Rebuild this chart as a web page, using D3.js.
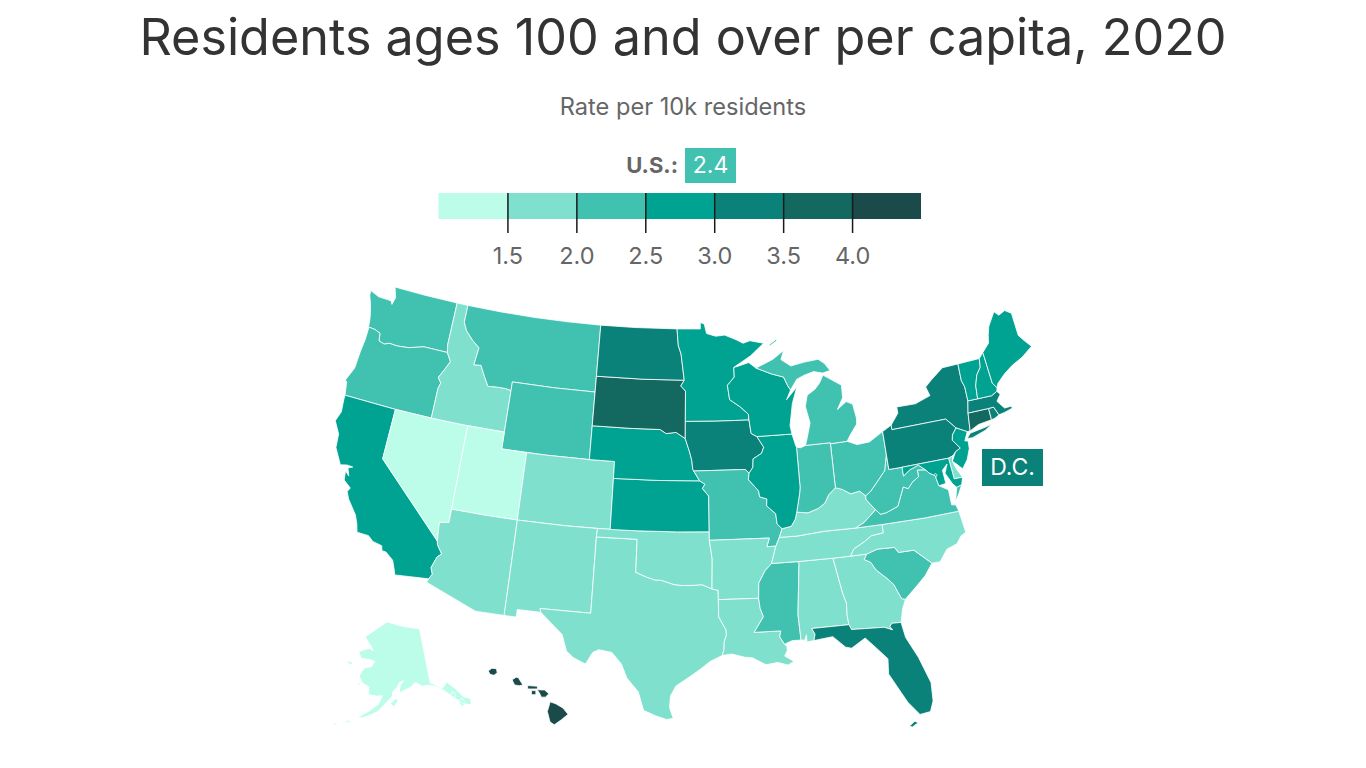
<!DOCTYPE html>
<html>
<head>
<meta charset="utf-8">
<script src="https://cdn.jsdelivr.net/npm/d3@7"></script>
<style>
  body { margin: 0; background: #fff; font-family: Inter, "Noto Sans", sans-serif; }
  svg { display: block; }
</style>
</head>
<body>
<svg id="chart" width="1366" height="768"></svg>
<script>
const titleText = 'Residents ages 100 and over per capita, 2020';
const subtitleText = 'Rate per 10k residents';
const usValue = 2.4;
const tickValues = [1.5, 2.0, 2.5, 3.0, 3.5, 4.0];
const binColors = ['#bbfde9', '#7fe0cd', '#41c1b0', '#00a291', '#0b8279', '#136860', '#1b4a4a'];
const legendDomain = [1.0, 4.5];

// estimated from the colour bins, only the bin is readable in the picture
const stateValues = {
  AK: 1.2, AL: 1.9, AR: 1.9, AZ: 1.9, CA: 2.8, CO: 1.8, CT: 3.7, DC: 3.2, DE: 1.9, FL: 3.2,
  GA: 1.8, HI: 4.3, IA: 3.3, ID: 1.9, IL: 2.8, IN: 2.3, KS: 2.9, KY: 1.8, LA: 1.9, MA: 3.3,
  MD: 2.8, ME: 2.8, MI: 2.3, MN: 2.9, MO: 2.3, MS: 2.3, MT: 2.4, NC: 1.9, ND: 3.4, NE: 2.9,
  NH: 2.8, NJ: 2.8, NM: 1.9, NV: 1.3, NY: 3.2, OH: 2.3, OK: 1.8, OR: 2.3, PA: 3.2, RI: 3.1,
  SC: 2.2, SD: 3.8, TN: 1.7, TX: 1.8, UT: 1.2, VA: 2.2, VT: 2.9, WA: 2.3, WI: 2.9, WV: 2.3, WY: 2.3
};

// lon,lat outlines, simplified by hand; one string per ring
const stateRings = {
  WA: ['-124.73,48.38 -123.9,48.16 -123.1,48.15 -122.75,48.14 -122.6,47.95 -122.45,48.4 -122.76,49 -120,49 -117.03,49 -117.04,46.43 -116.92,45.99 -118.98,46 -119.3,45.93 -120.2,45.73 -121.2,45.65 -121.9,45.68 -122.3,45.55 -122.8,45.65 -122.9,46.1 -123.4,46.23 -124,46.27 -124.05,46.65 -124.15,47 -124.4,47.6 -124.7,48.1'],
  OR: ['-124,46.27 -123.4,46.23 -122.9,46.1 -122.8,45.65 -122.3,45.55 -121.9,45.68 -121.2,45.65 -120.2,45.73 -119.3,45.93 -118.98,46 -116.92,45.99 -116.5,45.5 -116.85,44.95 -117.2,44.45 -117.03,44.25 -116.9,44.15 -117.03,43.8 -117.03,42 -120,42 -124.21,42 -124.4,42.8 -124.55,42.85 -124.1,43.7 -124.05,44.7 -123.95,45.5 -123.95,46.2'],
  CA: ['-124.21,42 -120,42 -120,39 -114.63,35 -114.57,34.8 -114.14,34.3 -114.43,34.08 -114.7,33.4 -114.52,33.03 -114.72,32.72 -117.12,32.53 -117.25,32.85 -117.5,33.35 -118.1,33.73 -118.4,33.75 -118.5,34.03 -119.2,34.15 -119.6,34.42 -120.47,34.45 -120.63,34.9 -120.9,35.4 -121.7,36.2 -121.95,36.6 -121.8,36.85 -122.4,37.2 -122.5,37.75 -122.15,37.5 -122.38,37.95 -122.05,38.08 -122.5,38.1 -123,38 -123.7,38.9 -123.8,39.7 -124.35,40.4 -124.1,41 -124.2,41.75'],
  NV: ['-120,42 -117.03,42 -114.04,42 -114.05,36.2 -114.75,36.1 -114.63,35 -120,39'],
  ID: ['-117.03,49 -116.05,49 -116.05,47.97 -115.7,47.5 -115,47 -114.35,46.65 -114.5,45.6 -113.9,45.65 -113.45,45.05 -113,44.5 -112.3,44.55 -111.5,44.55 -111.05,44.48 -111.05,42 -114.04,42 -117.03,42 -117.03,43.8 -116.9,44.15 -117.03,44.25 -117.2,44.45 -116.85,44.95 -116.5,45.5 -116.92,45.99 -117.04,46.43'],
  MT: ['-116.05,49 -113,49 -110,49 -107,49 -104.05,49 -104.05,45.94 -104.05,45 -107.5,45 -111.05,45 -111.05,44.48 -111.5,44.55 -112.3,44.55 -113,44.5 -113.45,45.05 -113.9,45.65 -114.5,45.6 -114.35,46.65 -115,47 -115.7,47.5 -116.05,47.97'],
  WY: ['-111.05,45 -107.5,45 -104.05,45 -104.05,43 -104.05,41 -107.5,41 -111.05,41 -111.05,42 -111.05,44.48'],
  UT: ['-114.04,42 -111.05,42 -111.05,41 -109.05,41 -109.05,37 -111.5,37 -114.05,37 -114.05,36.2'],
  CO: ['-109.05,41 -107.5,41 -104.05,41 -102.05,41 -102.05,40 -102.05,37 -105.5,37 -109.05,37'],
  AZ: ['-114.05,37 -111.5,37 -109.05,37 -109.05,31.33 -111.07,31.33 -114.81,32.5 -114.72,32.72 -114.52,33.03 -114.7,33.4 -114.43,34.08 -114.14,34.3 -114.57,34.8 -114.63,35 -114.75,36.1 -114.05,36.2'],
  NM: ['-109.05,37 -105.5,37 -103,37 -103.04,36.5 -103.04,32 -106.62,32 -106.53,31.78 -108.2,31.78 -108.2,31.33 -109.05,31.33'],
  TX: ['-103.04,36.5 -100,36.5 -100,34.56 -99.2,34.3 -98.6,34.15 -98.1,34.13 -97.2,33.9 -96.6,33.85 -95.8,33.86 -95.2,33.9 -94.48,33.64 -94.04,33.55 -94.04,33 -94.04,31.99 -93.55,31.2 -93.53,30.9 -93.7,30.5 -93.72,30.05 -93.85,29.7 -94.7,29.35 -95.2,29 -96,28.5 -97,27.9 -97.35,27.3 -97.4,26.6 -97.15,25.96 -97.6,25.9 -98.3,26.1 -99.1,26.4 -99.5,27.5 -100.3,28.3 -100.7,29.1 -101.4,29.77 -102.3,29.88 -102.7,29.7 -103.15,28.98 -104,29.3 -104.5,29.65 -104.9,30.6 -106,31.4 -106.53,31.78 -106.62,32 -103.04,32'],
  OK: ['-103,37 -100,37 -97,37 -94.62,37 -94.62,36.5 -94.43,35.4 -94.48,33.64 -95.2,33.9 -95.8,33.86 -96.6,33.85 -97.2,33.9 -98.1,34.13 -98.6,34.15 -99.2,34.3 -100,34.56 -100,36.5 -103.04,36.5'],
  KS: ['-102.05,40 -98.5,40 -95.31,40 -94.9,39.8 -95.1,39.55 -94.62,39.1 -94.62,37 -97,37 -100,37 -102.05,37'],
  NE: ['-104.05,43 -101,43 -98.5,43 -98,42.77 -97.2,42.85 -96.45,42.49 -96.1,41.7 -95.92,41.2 -95.85,40.7 -95.77,40.58 -95.31,40 -98.5,40 -102.05,40 -102.05,41 -104.05,41'],
  SD: ['-104.05,45.94 -100,45.94 -96.56,45.94 -96.85,45.6 -96.45,45.3 -96.45,43.5 -96.45,42.49 -97.2,42.85 -98,42.77 -98.5,43 -101,43 -104.05,43'],
  ND: ['-104.05,49 -101,49 -97.23,49 -97.1,48 -96.85,47.5 -96.56,45.94 -100,45.94 -104.05,45.94'],
  MN: ['-97.23,49 -95.15,49 -95.15,49.38 -94.8,49.3 -94.6,48.72 -93.8,48.55 -93,48.6 -92,48.3 -91.4,48.07 -90.8,48.2 -89.6,48 -90.8,47.3 -91.5,47 -92.1,46.75 -92.3,46.65 -92.29,46.08 -92.9,45.6 -92.75,44.75 -91.9,44.3 -91.25,43.85 -91.22,43.5 -94,43.5 -96.45,43.5 -96.45,45.3 -96.85,45.6 -96.56,45.94 -96.85,47.5 -97.1,48'],
  IA: ['-96.45,43.5 -94,43.5 -91.22,43.5 -91.1,42.7 -90.65,42.5 -90.15,41.85 -90.35,41.5 -91.05,41.2 -91.1,40.7 -91.42,40.38 -91.72,40.6 -95.77,40.58 -95.85,40.7 -95.92,41.2 -96.1,41.7 -96.45,42.49'],
  MO: ['-95.77,40.58 -91.72,40.6 -91.42,40.38 -91.5,40 -90.75,39.3 -90.7,38.95 -90.15,38.8 -90.2,38.4 -89.55,37.9 -89.5,37.3 -89.15,37 -89.4,36.5 -89.7,36 -90.37,36 -90.15,36.5 -94.62,36.5 -94.62,37 -94.62,39.1 -95.1,39.55 -94.9,39.8 -95.31,40'],
  AR: ['-94.62,36.5 -90.15,36.5 -90.37,36 -89.7,36 -90.1,35 -90.6,34.6 -91.1,33.9 -91.17,33 -94.04,33 -94.04,33.55 -94.48,33.64 -94.43,35.4'],
  LA: ['-94.04,33 -91.17,33 -91.1,32.4 -90.9,31.9 -91.6,31 -89.75,31 -89.85,30.65 -89.55,30.2 -89.4,30.05 -89.4,29.8 -89.6,29.5 -89,29.15 -89.4,28.95 -90.1,29.15 -90.9,29.05 -91.8,29.5 -92.3,29.55 -93.2,29.77 -93.85,29.7 -93.72,30.05 -93.7,30.5 -93.53,30.9 -93.55,31.2 -94.04,31.99'],
  MS: ['-91.17,33 -91.1,33.9 -90.6,34.6 -90.1,35 -88.2,35 -88.1,34.9 -88.47,31.9 -88.4,30.37 -89,30.38 -89.55,30.2 -89.85,30.65 -89.75,31 -91.6,31 -90.9,31.9 -91.1,32.4'],
  AL: ['-88.2,35 -85.6,35 -85.18,32.87 -85,32.3 -85.05,31.55 -85,31 -87.6,31 -87.4,30.65 -87.52,30.28 -88,30.23 -88,30.65 -88.15,30.35 -88.4,30.37 -88.47,31.9 -88.1,34.9'],
  GA: ['-85.6,35 -84.32,35 -83.11,35 -83.35,34.7 -82.9,34.48 -82.6,34 -81.9,33.4 -81.5,33 -81.1,32.1 -80.85,32.03 -81.15,31.5 -81.4,30.72 -82.05,30.75 -82.2,30.57 -82.05,30.36 -82.6,30.58 -84.86,30.7 -85,31 -85.05,31.55 -85,32.3 -85.18,32.87'],
  FL: ['-87.6,31 -85,31 -84.86,30.7 -82.6,30.58 -82.05,30.36 -82.2,30.57 -82.05,30.75 -81.4,30.72 -81.25,29.8 -80.6,28.5 -80.05,26.9 -80.12,25.8 -80.4,25.2 -81.1,25.13 -81.75,25.95 -82.1,26.6 -82.75,27.8 -82.65,28.7 -83.4,29.5 -84,30.1 -85,29.6 -85.4,29.7 -86.2,30.4 -87.52,30.28 -87.4,30.65', '-81.9,24.52 -81.5,24.78 -81.3,24.66 -81.7,24.46'],
  SC: ['-83.11,35 -82.3,35.2 -81.04,35.15 -80.8,34.82 -79.67,34.8 -78.55,33.86 -79.2,33.2 -79.9,32.7 -80.85,32.03 -81.1,32.1 -81.5,33 -81.9,33.4 -82.6,34 -82.9,34.48 -83.35,34.7'],
  NC: ['-84.32,35 -83.11,35 -82.3,35.2 -81.04,35.15 -80.8,34.82 -79.67,34.8 -78.55,33.86 -77.95,33.85 -77.3,34.5 -76.5,34.7 -76.1,35.1 -75.7,35.25 -75.8,36 -75.87,36.55 -78.5,36.55 -81.68,36.59 -81.7,36.1 -82.6,36.03 -83.1,35.77 -84,35.4'],
  TN: ['-90.1,35 -88.2,35 -85.6,35 -84.32,35 -84,35.4 -83.1,35.77 -82.6,36.03 -81.7,36.1 -81.68,36.59 -83.68,36.6 -86,36.63 -88.07,36.5 -89.4,36.5 -89.7,36'],
  KY: ['-89.4,36.5 -88.07,36.5 -86,36.63 -83.68,36.6 -83,36.85 -82,37.5 -82.6,38.17 -82.6,38.4 -83,38.72 -83.7,38.63 -84.3,38.95 -84.82,39.1 -85.4,38.73 -85.75,38.27 -86.3,38 -87.1,37.8 -87.95,37.9 -88.1,37.5 -88.45,37.1 -89.15,37'],
  VA: ['-83.68,36.6 -81.68,36.59 -78.5,36.55 -75.87,36.55 -76,36.95 -76.3,37 -76.3,37.55 -76.3,37.9 -76.95,38.25 -77.05,38.7 -77.04,38.85 -77.5,39.1 -77.72,39.32 -78.35,39.4 -78.35,39 -78.87,38.77 -79.3,38.42 -79.65,38.57 -80.3,37.5 -81.22,37.24 -81.68,37.2 -82,37.5 -83,36.85', '-75.95,37.15 -75.65,37.95 -75.24,38.03 -75.6,37.55'],
  WV: ['-82.6,38.17 -82,37.5 -81.68,37.2 -81.22,37.24 -80.3,37.5 -79.65,38.57 -79.3,38.42 -78.87,38.77 -78.35,39 -78.35,39.4 -77.72,39.32 -78.2,39.67 -78.9,39.5 -79.48,39.2 -79.48,39.72 -80.52,39.72 -80.52,40.64 -80.85,39.7 -81.7,39 -82.2,38.6 -82.6,38.4'],
  OH: ['-84.82,39.1 -84.3,38.95 -83.7,38.63 -83,38.72 -82.6,38.4 -82.2,38.6 -81.7,39 -80.85,39.7 -80.52,40.64 -80.52,41.98 -81.7,41.5 -82.7,41.45 -83.45,41.72 -84.8,41.7'],
  IN: ['-84.8,41.76 -86.8,41.76 -87.2,41.65 -87.53,41.7 -87.53,39.35 -87.6,39 -87.95,37.9 -87.1,37.8 -86.3,38 -85.75,38.27 -85.4,38.73 -84.82,39.1'],
  IL: ['-90.65,42.5 -87.8,42.5 -87.6,41.85 -87.53,41.7 -87.53,39.35 -87.6,39 -87.95,37.9 -88.1,37.5 -88.45,37.1 -89.15,37 -89.5,37.3 -89.55,37.9 -90.2,38.4 -90.15,38.8 -90.7,38.95 -90.75,39.3 -91.5,40 -91.42,40.38 -91.1,40.7 -91.05,41.2 -90.35,41.5 -90.15,41.85'],
  WI: ['-92.29,46.08 -92.3,46.65 -92,46.7 -91,46.9 -90.4,46.55 -89.1,46.14 -88.1,45.9 -87.8,45.35 -87.6,45.1 -88,44.55 -87.05,45.25 -87.55,44.3 -87.9,43 -87.8,42.5 -90.65,42.5 -91.1,42.7 -91.22,43.5 -91.25,43.85 -91.9,44.3 -92.75,44.75 -92.9,45.6'],
  MI: ['-86.8,41.76 -84.8,41.76 -84.8,41.7 -83.45,41.72 -83.15,42.05 -82.5,42.65 -82.45,43 -82.6,43.85 -83.1,44.05 -83.9,43.65 -83.35,44.3 -83.3,45.05 -84.75,45.78 -85.1,45.35 -85.55,45 -86.25,44.7 -86.5,44.05 -86.25,43.05 -86.6,42.2', '-90.4,46.55 -89.1,46.14 -88.1,45.9 -87.8,45.35 -87.6,45.1 -87,45.7 -86.3,45.9 -85.5,46.05 -84.75,45.9 -84.1,46 -84.5,46.45 -85,46.75 -86.2,46.67 -87.4,46.52 -88.2,46.95 -87.9,47.47 -88.9,47', '-89.2,47.85 -88.5,48.17 -88.4,48.1 -89.05,47.82'],
  NY: ['-79.76,42.27 -79.76,42 -75.35,42 -74.7,41.36 -73.9,41 -73.66,41 -73.49,42.05 -73.27,42.75 -73.25,43.6 -73.4,44 -73.35,45.01 -74.7,45 -75.8,44.45 -76.4,44.1 -76.2,43.55 -77.5,43.25 -79.05,43.27 -79.05,42.9', '-74.03,40.6 -73.6,40.58 -72.5,40.82 -71.87,41.07 -72.6,40.98 -73.7,40.87'],
  PA: ['-80.52,41.98 -80.52,40.64 -80.52,39.72 -79.48,39.72 -75.79,39.72 -75.42,39.8 -75.15,40 -74.72,40.15 -75.2,40.7 -75.1,41 -74.7,41.36 -75.35,42 -79.76,42 -79.76,42.27'],
  NJ: ['-74.7,41.36 -75.1,41 -75.2,40.7 -74.72,40.15 -75.15,40 -75.55,39.5 -75.3,39.3 -74.9,38.93 -74.4,39.4 -74.05,40 -74,40.45 -74.25,40.5 -73.9,41'],
  DE: ['-75.79,39.72 -75.42,39.8 -75.55,39.5 -75.4,39.05 -75.05,38.45 -75.7,38.46'],
  MD: ['-79.48,39.72 -75.79,39.72 -75.7,38.46 -75.05,38.45 -75.24,38.03 -75.65,37.95 -75.9,38.2 -76.3,38.9 -76,39.4 -76.45,39.1 -76.4,38.3 -76.95,38.25 -77.05,38.7 -77.04,38.85 -77.5,39.1 -77.72,39.32 -78.2,39.67 -78.9,39.5 -79.48,39.2'],
  DC: ['-77.12,38.93 -77.04,39 -76.91,38.89 -77.04,38.8'],
  CT: ['-73.49,42.05 -71.8,42.02 -71.8,41.33 -72.9,41.25 -73.66,41'],
  RI: ['-71.8,42.02 -71.38,42.02 -71.12,41.5 -71.5,41.37 -71.8,41.33'],
  MA: ['-73.49,42.05 -73.27,42.75 -72.46,42.73 -71.3,42.7 -70.8,42.87 -70.6,42.65 -71,42.3 -70.55,41.8 -70,41.8 -70.05,42.05 -69.95,41.67 -70.65,41.55 -71.12,41.5 -71.38,42.02 -71.8,42.02'],
  VT: ['-73.35,45.01 -71.5,45.01 -71.6,44.5 -72.05,44.1 -72.35,43.5 -72.46,42.73 -73.27,42.75 -73.25,43.6 -73.4,44'],
  NH: ['-71.5,45.01 -71.08,45.3 -70.98,43.4 -70.7,43.07 -70.8,42.87 -71.3,42.7 -72.46,42.73 -72.35,43.5 -72.05,44.1 -71.6,44.5'],
  ME: ['-71.08,45.3 -70.4,45.75 -70.25,46.2 -70,46.7 -69.23,47.46 -68.9,47.18 -68.3,47.35 -67.8,47.07 -67.8,45.7 -67.45,45.3 -67,44.85 -68,44.4 -69,44.1 -69.8,43.75 -70.55,43.3 -70.7,43.07 -70.98,43.4'],
  AK: ['-141,69.65 -141,60.3 -139.9,60 -137.5,58.9 -135.5,59.8 -133.5,58.4 -131.8,56.6 -130,55.9 -130.2,55 -131,55 -132.5,55.5 -134,56.5 -135.5,57.5 -136.5,58.2 -138,59 -140,59.7 -142,60 -144,60 -146,60.8 -148,60 -149.7,59.7 -151.8,59.2 -151.3,60.6 -150,61.2 -151.5,61 -152.5,60.2 -154,59.4 -154,58.7 -156.5,57.3 -158.5,56 -161,55.2 -163,54.7 -164.5,54.6 -163,55.2 -161,56 -158.5,57.2 -157.3,58.7 -159,58.6 -162,58.7 -162,60 -164.5,60.5 -166,61.6 -164.7,63 -162,63.5 -161,64.4 -163,64.6 -166.5,64.6 -168,65.6 -164,66.5 -162,66.2 -163.5,67 -166.5,68.3 -163,69.5 -156.7,71.3 -152,70.8 -148,70.4 -144,70', '-154.7,57.4 -153,58.3 -152.2,58 -153.5,56.9', '-166.2,60.2 -165.2,60.5 -165.5,59.9', '-171.7,63.6 -170,63.7 -169,63.3 -170.5,63.2', '-134.5,58 -133.9,57.3 -134.7,56.6 -135.5,57.4', '-133.8,56.2 -132.3,56.4 -131.8,55.5 -133,55', '-168.5,53.3 -166,54 -166.5,53.5', '-171,52.9 -169.5,52.9 -170,52.6']
  ,
  HI: ['-155.9,20.27 -155.55,20.15 -155.1,19.9 -154.78,19.52 -155.2,19.2 -155.65,18.9 -155.92,19.08 -156.08,19.7', '-156.72,21.02 -156.5,20.98 -156.25,20.98 -155.98,20.75 -156.2,20.55 -156.45,20.55 -156.58,20.8', '-158.3,21.58 -158.05,21.74 -157.92,21.72 -157.62,21.28 -157.85,21.23 -158.15,21.28', '-159.82,22.1 -159.6,22.26 -159.3,22.24 -159.25,22 -159.45,21.84 -159.7,21.9', '-157.32,21.24 -156.7,21.2 -156.7,21.04 -157.32,21.04', '-157.08,20.94 -156.8,20.94 -156.8,20.7 -157.08,20.7']
};

const parseRing = function(text){
  const ring = text.split(' ').map(p => p.split(',').map(Number));
  ring.push(ring[0]);
  // d3-geo wants rings wound so they enclose the small side of the globe
  if(d3.geoArea({type:'Polygon',coordinates:[ring]}) > 2*Math.PI){
    ring.reverse();
  }
  return [ring];
};

const stateFeatures = Object.keys(stateRings).map(id => ({
  type:'Feature',
  id:id,
  properties:{value:stateValues[id]},
  geometry:{type:'MultiPolygon',coordinates:stateRings[id].map(parseRing)}
}));

const svg = d3.select('#chart');
const color = d3.scaleThreshold().domain(tickValues).range(binColors);

svg.append('text').attr('x',683).attr('y',55)
  .attr('text-anchor','middle').attr('font-size',50.3).attr('fill','#333')
  .text(titleText);

svg.append('text').attr('x',683).attr('y',115)
  .attr('text-anchor','middle').attr('font-size',23.6).attr('fill','#666')
  .text(subtitleText);

// U.S. marker above the legend
svg.append('text').attr('x',678).attr('y',173)
  .attr('text-anchor','end').attr('font-size',22).attr('font-weight',700).attr('fill','#666')
  .text('U.S.:');
svg.append('rect').attr('x',685).attr('y',148).attr('width',51).attr('height',35)
  .attr('fill',color(usValue));
svg.append('text').attr('x',710.5).attr('y',173)
  .attr('text-anchor','middle').attr('font-size',23).attr('fill','#fff')
  .text(usValue.toFixed(1));

// legend
const legendX = d3.scaleLinear().domain(legendDomain).range([438.5,921]);
const legendEdges = [legendDomain[0],...tickValues,legendDomain[1]];
svg.append('g').selectAll('rect')
  .data(binColors)
  .join('rect')
  .attr('x',(d,i) => legendX(legendEdges[i]))
  .attr('y',193)
  .attr('width',(d,i) => legendX(legendEdges[i+1]) - legendX(legendEdges[i]))
  .attr('height',26)
  .attr('fill',d => d);

const legendAxis = svg.append('g')
  .attr('transform','translate(0,193)')
  .call(d3.axisBottom(legendX).tickValues(tickValues).tickFormat(d3.format('.1f')).tickSize(40).tickPadding(14));
legendAxis.select('.domain').remove();
legendAxis.selectAll('.tick line').attr('stroke','#1a1a1a').attr('stroke-width',1.5);
legendAxis.selectAll('.tick text')
  .attr('font-family','Inter, "Noto Sans", sans-serif').attr('font-size',23.5).attr('fill','#666');

// map
const projection = d3.geoAlbersUsa().scale(966).translate([683,503]);
const path = d3.geoPath(projection);

svg.append('g').selectAll('path')
  .data(stateFeatures)
  .join('path')
  .attr('d',path)
  .attr('fill',d => color(d.properties.value))
  .attr('stroke','#fff')
  .attr('stroke-width',0.8)
  .attr('stroke-linejoin','round');

// D.C. callout
svg.append('rect').attr('x',982).attr('y',449).attr('width',61).attr('height',37)
  .attr('fill',color(stateValues.DC));
svg.append('text').attr('x',1012.5).attr('y',475)
  .attr('text-anchor','middle').attr('font-size',23).attr('fill','#fff')
  .text('D.C.');
</script>
</body>
</html>
